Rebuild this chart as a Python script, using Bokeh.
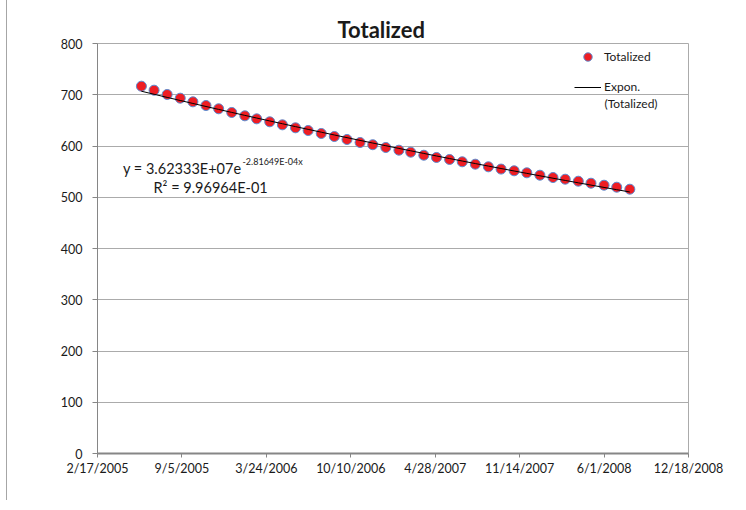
import numpy as np
import pandas as pd
from bokeh.plotting import figure
from bokeh.models import Range1d, FixedTicker, Legend, LegendItem, Label
from bokeh.embed import file_html
from bokeh.resources import INLINE

# ---------------- data ----------------
dates = [
    "2005-06-01", "2005-07-01", "2005-08-01", "2005-09-01", "2005-10-01", "2005-11-01", "2005-12-01",
    "2006-01-01", "2006-02-01", "2006-03-01", "2006-04-01", "2006-05-01", "2006-06-01",
    "2006-07-01", "2006-08-01", "2006-09-01", "2006-10-01", "2006-11-01", "2006-12-01",
    "2007-01-01", "2007-02-01", "2007-03-01", "2007-04-01", "2007-05-01", "2007-06-01",
    "2007-07-01", "2007-08-01", "2007-09-01", "2007-10-01", "2007-11-01", "2007-12-01",
    "2008-01-01", "2008-02-01", "2008-03-01", "2008-04-01", "2008-05-01", "2008-06-01",
    "2008-07-01", "2008-08-01",
]
totalized = [
    716.7, 708.9, 700.5, 693.3, 686.2, 679.0, 672.6,
    665.4, 658.9, 653.0, 647.2, 641.3, 635.5,
    630.2, 624.4, 618.5, 612.7, 606.8, 602.5,
    597.1, 591.8, 587.9, 582.0, 577.6, 573.7,
    569.2, 564.5, 559.4, 555.0, 551.6, 547.7,
    543.0, 538.5, 535.2, 531.3, 527.4, 523.5,
    519.6, 515.7,
]
x_tick_labels = ["2/17/2005", "9/5/2005", "3/24/2006", "10/10/2006",
                 "4/28/2007", "11/14/2007", "6/1/2008", "12/18/2008"]
y_ticks = [0, 100, 200, 300, 400, 500, 600, 700, 800]

# exponential trendline  y = a * e^(b x)  (x = Excel date serial)
trend_a = 3.62333e7
trend_b = -2.81649e-4

title_text = "Totalized"
series_name = "Totalized"
trend_name = "Expon."
trend_name2 = "(Totalized)"
eq_main = "y = 3.62333E+07e"
eq_sup = "-2.81649E-04x"
eq_r2 = "R² = 9.96964E-01"

# ---------------- conversions ----------------
EPOCH = pd.Timestamp("1899-12-30")
x_serial = np.array([(pd.Timestamp(d) - EPOCH).days for d in dates], dtype=float)
x_ticks = [int((pd.to_datetime(t, format="%m/%d/%Y") - EPOCH).days) for t in x_tick_labels]
trend_y = trend_a * np.exp(trend_b * x_serial)

FONT = "Lato"
TXT = "#1a1a1a"
GRID = "#ABABAB"
AXIS = "#868686"

p = figure(width=736, height=500,
           x_range=Range1d(x_ticks[0], x_ticks[-1]),
           y_range=Range1d(y_ticks[0], y_ticks[-1]),
           output_backend="svg", toolbar_location=None,
           min_border_left=90, min_border_right=55,
           min_border_top=43, min_border_bottom=47)
p.styles = {"border-left": "1px solid #A6A6A6", "margin-left": "6px"}
p.outline_line_color = GRID
p.outline_line_width = 1
p.background_fill_color = "white"
p.border_fill_color = "white"

p.title.text = title_text
p.title.align = "left"
p.title.offset = 240
p.title.standoff = 1
p.title.text_font = FONT
p.title.text_font_size = "22px"
p.title.text_font_style = "bold"
p.title.text_color = TXT

p.xgrid.visible = False
p.ygrid.grid_line_color = GRID
p.ygrid.grid_line_width = 1

p.yaxis.ticker = FixedTicker(ticks=y_ticks)
p.yaxis.axis_line_color = AXIS
p.yaxis.major_tick_line_color = AXIS
p.yaxis.major_tick_out = 5
p.yaxis.major_tick_in = 0
p.yaxis.minor_tick_line_color = None
p.yaxis.major_label_standoff = 10
p.yaxis.major_label_text_font = FONT
p.yaxis.major_label_text_font_size = "12.5px"
p.yaxis.major_label_text_color = TXT

p.xaxis.ticker = FixedTicker(ticks=x_ticks)
p.xaxis.major_label_overrides = {t: lab for t, lab in zip(x_ticks, x_tick_labels)}
p.xaxis.axis_line_color = AXIS
p.xaxis.axis_line_width = 2
p.xaxis.major_tick_line_color = AXIS
p.xaxis.major_tick_out = 4
p.xaxis.major_tick_in = 0
p.xaxis.minor_tick_line_color = None
p.xaxis.major_label_standoff = 3
p.xaxis.major_label_text_font = FONT
p.xaxis.major_label_text_font_size = "12.5px"
p.xaxis.major_label_text_color = TXT

sc = p.scatter(x_serial, totalized, size=10, marker="circle",
               fill_color="#EE1D23", line_color="#5B8BD0", line_width=1)
ln = p.line(x_serial, trend_y, line_color="black", line_width=1)

legA = Legend(items=[LegendItem(label=series_name, renderers=[sc])],
              location=(477, 386.5), padding=0, margin=0, spacing=0,
              glyph_width=27, glyph_height=21, label_standoff=3,
              border_line_color=None, background_fill_alpha=0,
              label_text_font=FONT, label_text_font_size="12px", label_text_color=TXT)
legB = Legend(items=[LegendItem(label=trend_name, renderers=[ln])],
              location=(477, 359), padding=0, margin=0, spacing=0,
              glyph_width=27, glyph_height=14, label_standoff=3,
              border_line_color=None, background_fill_alpha=0,
              label_text_font=FONT, label_text_font_size="12px", label_text_color=TXT)
p.add_layout(legA)
p.add_layout(legB)
p.add_layout(Label(x=507, y=350, x_units="screen", y_units="screen", text=trend_name2,
                   text_font=FONT, text_font_size="12px", text_color=TXT,
                   text_baseline="middle", text_align="left"))

# trendline equation
p.add_layout(Label(x=38741, y=556, text=eq_main, text_font=FONT, text_font_size="14.5px",
                   text_color=TXT, text_align="right", text_baseline="alphabetic"))
p.add_layout(Label(x=38743.5, y=569, text=eq_sup, text_font=FONT, text_font_size="9px",
                   text_color=TXT, text_align="left", text_baseline="alphabetic"))
p.add_layout(Label(x=38668, y=519.6, text=eq_r2, text_font=FONT, text_font_size="14.5px",
                   text_color=TXT, text_align="center", text_baseline="alphabetic"))

open("out.html", "w").write(file_html(p, INLINE))
